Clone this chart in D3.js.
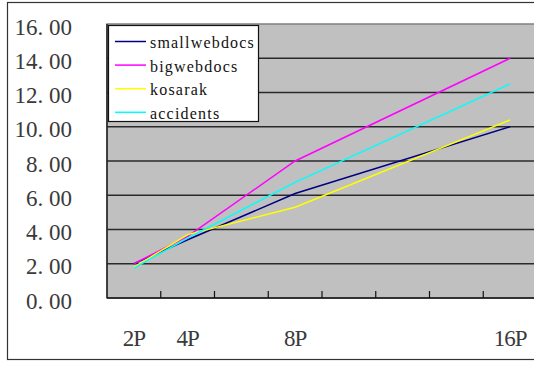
<!DOCTYPE html>
<html><head><meta charset="utf-8">
<script src="https://cdn.jsdelivr.net/npm/d3@7"></script>
<style>body{margin:0;background:#fff}svg{display:block}</style>
</head><body>
<svg id="c" width="534" height="365"></svg>
<script>
// Data
const xValues = [2, 4, 8, 16];
const xTickLabels = ["2P", "4P", "8P", "16P"];
const seriesNames = ["smallwebdocs", "bigwebdocs", "kosarak", "accidents"];
const seriesColors = ["#000080", "#ff00ff", "#ffff00", "#00ffff"];
const smallwebdocs = [2.0, 3.4, 6.1, 10.0];
const bigwebdocs = [2.0, 3.6, 8.0, 14.0];
const kosarak = [1.8, 3.7, 5.3, 10.4];
const accidents = [1.75, 3.5, 6.75, 12.5];
const yTicks = [0, 2, 4, 6, 8, 10, 12, 14, 16];

(function () {
const seriesValues = [smallwebdocs, bigwebdocs, kosarak, accidents];
const svg = d3.select("#c");

// frame
svg.append("rect").attr("x", 7.5).attr("y", 2.5).attr("width", 540).attr("height", 357)
  .attr("fill", "#fff").attr("stroke", "#333").attr("stroke-width", 1.2);

const pl = 107, pt = 24, pb = 298, pr = 537;
const x = d3.scaleLinear().domain([1, 17]).range([pl, pr]);
const y = d3.scaleLinear().domain([0, 16]).range([pb, pt]);

// plot area
svg.append("rect").attr("x", pl).attr("y", pt).attr("width", pr - pl).attr("height", pb - pt)
  .attr("fill", "#c0c0c0").attr("stroke", "#808080").attr("stroke-width", 1.5);

// gridlines
svg.append("g").selectAll("line").data(yTicks.filter(d => d > 0 && d < 16)).join("line")
  .attr("x1", pl).attr("x2", pr).attr("y1", d => y(d)).attr("y2", d => y(d))
  .attr("stroke", "#2a2a2a").attr("stroke-width", 1.5);

// axes lines
svg.append("line").attr("x1", pl).attr("x2", pl).attr("y1", pt).attr("y2", pb)
  .attr("stroke", "#222").attr("stroke-width", 1.5);
svg.append("line").attr("x1", pl).attr("x2", pr).attr("y1", pb).attr("y2", pb)
  .attr("stroke", "#111").attr("stroke-width", 1.5);

// x ticks at category boundaries
const xBounds = d3.range(3, 17, 2);
svg.append("g").selectAll("line").data(xBounds).join("line")
  .attr("x1", d => x(d)).attr("x2", d => x(d)).attr("y1", pb).attr("y2", pb - 7)
  .attr("stroke", "#111").attr("stroke-width", 1.2);

// y labels
const fmt = d3.format(".2f");
svg.append("g").selectAll("text").data(yTicks).join("text")
  .attr("x", 72).attr("y", d => y(d) + 3)
  .attr("text-anchor", "end").attr("dominant-baseline", "central")
  .attr("font-family", "Liberation Serif").attr("font-size", 23).attr("fill", "#3a3a3a")
  .text(d => fmt(d).replace(".", ". "));

// x labels
svg.append("g").selectAll("text").data(xValues).join("text")
  .attr("x", d => x(d)).attr("y", 338)
  .attr("text-anchor", "middle").attr("dominant-baseline", "central")
  .attr("font-family", "Liberation Serif").attr("font-size", 23).attr("fill", "#3a3a3a")
  .attr("letter-spacing", -1)
  .text((d, i) => xTickLabels[i]);

// lines
const line = d3.line().x(d => x(d[0])).y(d => y(d[1]));
seriesValues.forEach((vals, i) => {
  svg.append("path").datum(xValues.map((xv, j) => [xv, vals[j]]))
    .attr("d", line).attr("fill", "none")
    .attr("stroke", seriesColors[i]).attr("stroke-width", 1.5);
});

// legend
const lg = svg.append("g");
lg.append("rect").attr("x", 108.5).attr("y", 25.5).attr("width", 150).attr("height", 96)
  .attr("fill", "#fff").attr("stroke", "#111").attr("stroke-width", 1.2);
seriesNames.forEach((name, i) => {
  const cy = 41.5 + i * 23.6;
  lg.append("line").attr("x1", 115).attr("x2", 146).attr("y1", cy).attr("y2", cy)
    .attr("stroke", seriesColors[i]).attr("stroke-width", 1.5);
  lg.append("text").attr("x", 150).attr("y", cy + 1).attr("dominant-baseline", "central")
    .attr("font-family", "Liberation Serif").attr("font-size", 16).attr("fill", "#111")
    .attr("letter-spacing", 1.2)
    .text(name);
});
})();
</script>
</body></html>
